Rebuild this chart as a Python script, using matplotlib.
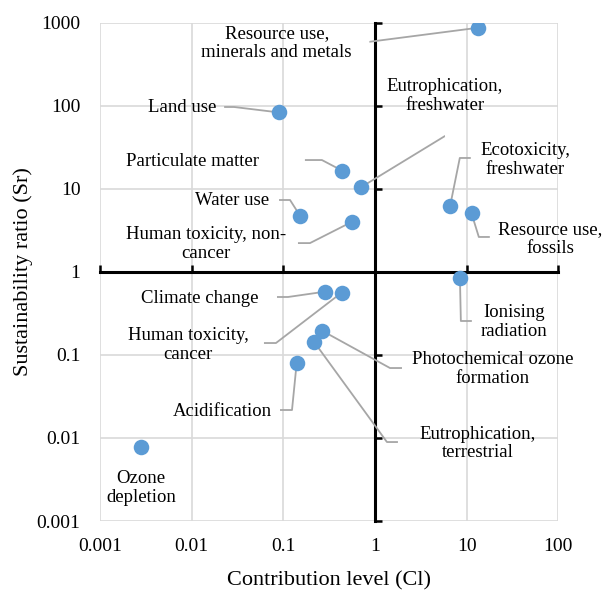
import matplotlib.pyplot as plt
import numpy as np

plt.rcParams["font.family"] = ["Liberation Serif", "DejaVu Serif"]

categories = [
    "Resource use,\nminerals and metals",
    "Eutrophication,\nfreshwater",
    "Land use",
    "Particulate matter",
    "Water use",
    "Human toxicity, non-\ncancer",
    "Ecotoxicity,\nfreshwater",
    "Resource use,\nfossils",
    "Ionising\nradiation",
    "Climate change",
    "Human toxicity,\ncancer",
    "Photochemical ozone\nformation",
    "Eutrophication,\nterrestrial",
    "Acidification",
    "Ozone\ndepletion",
]
contribution = [13.4, 0.70, 0.090, 0.44, 0.152, 0.56, 6.6, 11.3, 8.45,
                0.284, 0.432, 0.266, 0.218, 0.140, 0.0028]
sustainability = [870, 10.4, 83, 16.5, 4.75, 4.0, 6.2, 5.07, 0.836,
                  0.577, 0.561, 0.195, 0.142, 0.0805, 0.00785]

# label centres (data coords)
label_x = [0.0847, 5.8, 0.0078, 0.0103, 0.0275, 0.0143, 43.3, 81.1, 32.8,
           0.0123, 0.0091, 19.4, 13.3, 0.0214, 0.0028]
label_y = [570, 131, 94, 21.6, 7.33, 2.16, 22.2, 2.49, 0.249,
           0.484, 0.1315, 0.0676, 0.00857, 0.0207, 0.0025]
# leader line start (data coords) and horizontal elbow length in px
lead_x = [0.88, 5.8, 0.0226, 0.172, 0.0898, 0.1445, 11.1, 17.9, 11.4,
          0.0853, 0.0615, 1.97, 1.78, 0.092, None]
lead_y = [590, 43.2, 96.6, 22.2, 7.33, 2.22, 23.5, 2.63, 0.256,
          0.498, 0.139, 0.0695, 0.00893, 0.0217, None]
elbow_px = [0, 0, 10, 17, 11, 12, -11, -11, -11, 11, 12, -12, -11, 12, 0]

x_ticks = [0.001, 0.01, 0.1, 1, 10, 100]
x_tick_labels = ["0.001", "0.01", "0.1", "1", "10", "100"]
y_ticks = [0.001, 0.01, 0.1, 1, 10, 100, 1000]
y_tick_labels = ["0.001", "0.01", "0.1", "1", "10", "100", "1000"]

fig = plt.figure(figsize=(6.02, 5.91), dpi=100)
ax = fig.add_axes([100 / 602, 1 - 521 / 591, 458.3 / 602, 498.3 / 591])
ax.set_xscale("log")
ax.set_yscale("log")
ax.set_xlim(0.001, 100)
ax.set_ylim(0.001, 1000)
ax.set_xticks(x_ticks)
ax.set_yticks(y_ticks)
ax.minorticks_off()
ax.grid(True, color="#d9d9d9", lw=1.2, zorder=0)
ax.set_axisbelow(True)

# axes crossing at (1, 1)
for side in ["top", "right"]:
    ax.spines[side].set_visible(False)
for side in ["left", "bottom"]:
    ax.spines[side].set_position(("data", 1))
    ax.spines[side].set_linewidth(2.2)
    ax.spines[side].set_zorder(3)
ax.tick_params(which="both", direction="in", length=5, width=1.8,
               labelleft=False, labelbottom=False)

secx = ax.secondary_xaxis("bottom")
secx.set_xticks(x_ticks)
secx.set_xticklabels(x_tick_labels)
secx.minorticks_off()
secx.tick_params(which="both", length=0, pad=12, labelsize=14)
secx.spines["bottom"].set_visible(False)
secx.set_xlabel("Contribution level (Cl)", fontsize=16, labelpad=12)

secy = ax.secondary_yaxis("left")
secy.set_yticks(y_ticks)
secy.set_yticklabels(y_tick_labels)
secy.minorticks_off()
secy.tick_params(which="both", length=0, pad=14, labelsize=14)
secy.spines["left"].set_visible(False)
secy.set_ylabel("Sustainability ratio (Sr)", fontsize=16, labelpad=3)

ax.scatter(contribution, sustainability, s=125, color="#5b9bd5",
           zorder=5, linewidths=0)

fig.canvas.draw()
inv = ax.transData.inverted()
for i, name in enumerate(categories):
    ax.text(label_x[i], label_y[i], name, ha="center", va="center",
            multialignment="center", fontsize=13.5, zorder=6,
            linespacing=1.1)
    if lead_x[i] is None:
        continue
    sx, sy = ax.transData.transform((lead_x[i], lead_y[i]))
    ex, ey = inv.transform((sx + elbow_px[i], sy))
    ax.plot([lead_x[i], ex, contribution[i]],
            [lead_y[i], ey, sustainability[i]],
            color="#a6a6a6", lw=1.3, zorder=4, solid_capstyle="butt")

fig.savefig("out.png", dpi=100)
